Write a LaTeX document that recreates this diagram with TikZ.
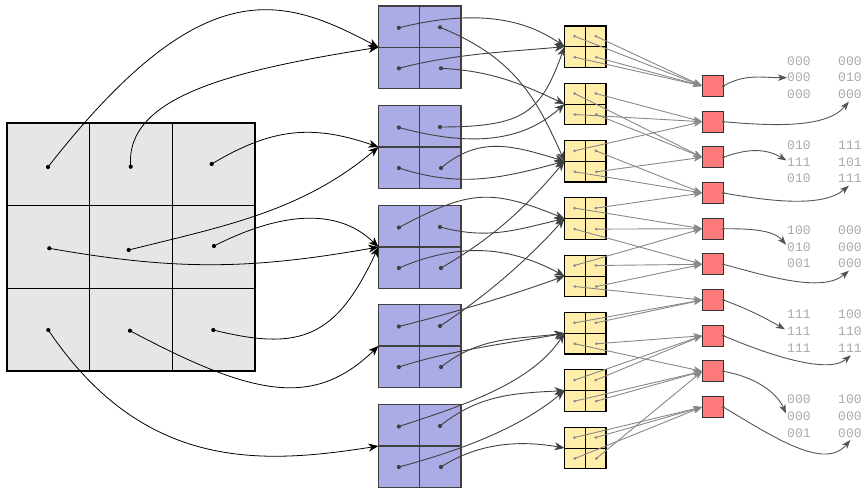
\documentclass[tikz,border=0pt]{standalone}
\usepackage{fontspec}
\newfontfamily\matfont{Liberation Mono}
\usetikzlibrary{arrows.meta,calc}
\definecolor{cellgray}{RGB}{230,230,230}
\definecolor{blockpurple}{RGB}{171,171,230}
\definecolor{blockyellow}{RGB}{255,238,170}
\definecolor{unitred}{RGB}{255,122,122}
\definecolor{bitgray}{RGB}{170,170,170}
\definecolor{edgedark}{RGB}{64,64,64}
\definecolor{edgemid}{RGB}{136,136,136}
\definecolor{edgeout}{RGB}{85,85,85}
\begin{document}
\begin{tikzpicture}[x=1pt,y=1pt,
  gridcell/.style={draw=black,line width=0.9pt,fill=cellgray,minimum size=82.67pt,inner sep=0pt,outer sep=0pt},
  pblock/.style={draw=edgedark,line width=1.4pt,fill=blockpurple,minimum size=82.5pt,inner sep=0pt,outer sep=0pt},
  yblock/.style={draw=black,line width=1.2pt,fill=blockyellow,minimum size=41.5pt,inner sep=0pt,outer sep=0pt},
  rnode/.style={draw=black!80,line width=1pt,fill=unitred,minimum size=21pt,inner sep=0pt,outer sep=0pt},
  gdot/.style={circle,fill=black,inner sep=0pt,minimum size=4.2pt},
  pdot/.style={circle,fill=edgedark,inner sep=0pt,minimum size=4.2pt},
  ydot/.style={circle,fill=edgemid,inner sep=0pt,minimum size=3pt},
  rdot/.style={circle,fill=edgeout,inner sep=0pt,minimum size=3pt},
  garrow/.style={draw=black,line width=0.8pt,-{Stealth[length=10pt,width=8pt,inset=3pt]}},
  parrow/.style={draw=edgedark,line width=0.9pt,-{Stealth[length=10pt,width=8pt,inset=3pt]}},
  yarrow/.style={draw=edgemid,line width=0.9pt,-{Stealth[length=9pt,width=6.5pt,inset=2.5pt]}},
  rarrow/.style={draw=edgeout,line width=0.9pt,-{Stealth[length=9pt,width=6.5pt,inset=2.5pt]}},
  bits/.style={font=\matfont\fontsize{13}{16.8}\selectfont,text=bitgray,align=left,inner sep=0pt,anchor=west},
]
\useasboundingbox (0,0) rectangle (864,-488);

% input grid
\foreach \r/\y in {1/-164.33,2/-247,3/-329.67}
  \foreach \c/\x in {1/48.33,2/131,3/213.67}
    \node[gridcell] (c\r\c) at (\x,\y) {};
\draw[line width=1.8pt] (c11.north west) rectangle (c33.south east);

% purple blocks
\foreach \i/\y in {1/-47.3,2/-147,3/-247,4/-346,5/-446}{
  \node[pblock] (p\i) at (419.7,\y) {};
  \draw[draw=edgedark,line width=1.4pt] (p\i.north) -- (p\i.south) (p\i.west) -- (p\i.east);
}

% yellow blocks
\foreach \i/\y in {1/-46.7,2/-104,3/-161.3,4/-218.6,5/-276,6/-333.3,7/-390.6,8/-448}{
  \node[yblock] (y\i) at (585.3,\y) {};
  \draw[line width=1pt] (y\i.north) -- (y\i.south) (y\i.west) -- (y\i.east);
}

% red units
\foreach \i/\y in {1/-86,2/-121.7,3/-157.3,4/-193,5/-228.7,6/-264.3,7/-300,8/-335.7,9/-371.3,10/-407}
  \node[rnode] (r\i) at (712.8,\y) {};

% bit patterns
\foreach \k/\y/\left/\right in {
  1/-77.7/{000\\000\\000}/{000\\010\\000},
  2/-161.9/{010\\111\\010}/{111\\101\\111},
  3/-246.8/{100\\010\\001}/{000\\000\\000},
  4/-331.4/{111\\111\\111}/{100\\110\\111},
  5/-416/{000\\000\\001}/{100\\000\\000}}{
  \node[bits] (m\k a) at (787,\y) {\left};
  \node[bits] (m\k b) at (838,\y) {\right};
}

% dot markers
\node[gdot] (g11) at (48,-167) {};
\node[gdot] (g12) at (130.7,-166.7) {};
\node[gdot] (g13) at (211.7,-164) {};
\node[gdot] (g21) at (49.3,-248.3) {};
\node[gdot] (g22) at (128.7,-250) {};
\node[gdot] (g23) at (214,-246) {};
\node[gdot] (g31) at (48.3,-330) {};
\node[gdot] (g32) at (130,-330.7) {};
\node[gdot] (g33) at (213.3,-330) {};

\foreach \i in {1,...,5}{
  \node[pdot] (pa\i) at ($(p\i.center)+(-20.8,19.5)$) {};
  \node[pdot] (pb\i) at ($(p\i.center)+(20.3,20)$) {};
  \node[pdot] (pc\i) at ($(p\i.center)+(-20.8,-21)$) {};
  \node[pdot] (pd\i) at ($(p\i.center)+(21.3,-21)$) {};
}
\foreach \i in {1,...,8}{
  \node[ydot] (ya\i) at ($(y\i.center)+(-10.8,10.5)$) {};
  \node[ydot] (yb\i) at ($(y\i.center)+(10.5,10.5)$) {};
  \node[ydot] (yc\i) at ($(y\i.center)+(-10.5,-10.5)$) {};
  \node[ydot] (yd\i) at ($(y\i.center)+(11,-10.5)$) {};
}

% grid -> purple
\draw[garrow] (g11.center) to[out=52,in=152,out distance=250pt,in distance=110pt] (p1.west);
\draw[garrow] (g12.center) to[out=95,in=189,out distance=70pt,in distance=150pt] (p1.west);
\draw[garrow] (g13.center) to[out=31,in=161,out distance=70pt,in distance=70pt] (p2.west);
\draw[garrow] (g21.center) to[out=-10,in=190,out distance=130pt,in distance=130pt] (p3.west);
\draw[garrow] (g22.center) to[out=14,in=220,out distance=100pt,in distance=100pt] (p2.west);
\draw[garrow] (g23.center) to[out=27,in=136,out distance=70pt,in distance=60pt] (p3.west);
\draw[garrow] (g31.center) to[out=-56,in=189,out distance=170pt,in distance=120pt] (p5.west);
\draw[garrow] (g32.center) to[out=-28,in=224,out distance=140pt,in distance=90pt] (p4.west);
\draw[garrow] (g33.center) to[out=-14,in=245,out distance=90pt,in distance=100pt] (p3.west);

% purple -> yellow
\draw[parrow] (pa1.center) to[out=14,in=145,out distance=70pt,in distance=55pt] (y1.west);
\draw[parrow] (pb1.center) to[out=-22,in=114,out distance=80pt,in distance=70pt] (y3.west);
\draw[parrow] (pc1.center) to[out=15,in=185,out distance=55pt,in distance=55pt] (y1.west);
\draw[parrow] (pd1.center) to[out=-3,in=155,out distance=50pt,in distance=50pt] (y2.west);
\draw[parrow] (pa2.center) to[out=-15,in=222,out distance=70pt,in distance=60pt] (y2.west);
\draw[parrow] (pb2.center) to[out=0,in=250,out distance=85pt,in distance=70pt] (y1.west);
\draw[parrow] (pc2.center) to[out=-18,in=195,out distance=65pt,in distance=65pt] (y3.west);
\draw[parrow] (pd2.center) to[out=40,in=163,out distance=50pt,in distance=55pt] (y3.west);
\draw[parrow] (pa3.center) to[out=28,in=158,out distance=80pt,in distance=80pt] (y4.west);
\draw[parrow] (pb3.center) to[out=-15,in=193,out distance=50pt,in distance=50pt] (y4.west);
\draw[parrow] (pc3.center) to[out=23,in=152,out distance=70pt,in distance=60pt] (y5.west);
\draw[parrow] (pd3.center) to[out=30,in=230,out distance=60pt,in distance=60pt] (y3.west);
\draw[parrow] (pa4.center) to[out=14,in=200,out distance=55pt,in distance=55pt] (y5.west);
\draw[parrow] (pb4.center) to[out=33,in=228,out distance=55pt,in distance=55pt] (y4.west);
\draw[parrow] (pc4.center) to[out=18,in=190,out distance=55pt,in distance=55pt] (y6.west);
\draw[parrow] (pd4.center) to[out=38,in=187,out distance=50pt,in distance=50pt] (y6.west);
\draw[parrow] (pa5.center) to[out=18,in=236,out distance=70pt,in distance=60pt] (y6.west);
\draw[parrow] (pb5.center) to[out=39,in=183,out distance=50pt,in distance=50pt] (y7.west);
\draw[parrow] (pc5.center) to[out=15,in=220,out distance=60pt,in distance=60pt] (y7.west);
\draw[parrow] (pd5.center) to[out=33,in=170,out distance=45pt,in distance=45pt] (y8.west);

% yellow -> red
\foreach \s/\t in {a1/1,b1/1,c1/1,d1/1,
                   a2/3,b2/2,c2/2,d2/3,
                   a3/2,b3/4,c3/4,d3/3,
                   a4/5,b4/4,c4/6,d4/5,
                   a5/5,b5/6,c5/7,d5/6,
                   a6/7,b6/7,c6/9,d6/8,
                   a7/8,b7/8,c7/9,d7/9,
                   a8/10,b8/10,c8/10,d8/9}
  \draw[yarrow] (y\s.center) -- (r\t.west);

% red -> bit patterns
\draw[rarrow] (r1.east) to[out=30,in=180,out distance=25pt,in distance=25pt] (m1a.west);
\draw[rarrow] (r2.east) to[out=-5,in=230,out distance=50pt,in distance=35pt] ($(m1b.south)+(-1,-2.5)$);
\draw[rarrow] (r3.east) to[out=20,in=150,out distance=25pt,in distance=25pt] ($(m2a.west)+(-0.5,1.5)$);
\draw[rarrow] (r4.east) to[out=-10,in=220,out distance=45pt,in distance=35pt] ($(m2b.south)+(-1,-2.5)$);
\draw[rarrow] (r5.east) to[out=0,in=130,out distance=25pt,in distance=20pt] ($(m3a.west)+(-1,2)$);
\draw[rarrow] (r6.east) to[out=-15,in=220,out distance=45pt,in distance=35pt] ($(m3b.south)+(-1,-2.5)$);
\draw[rarrow] (r7.east) to[out=-20,in=150,out distance=25pt,in distance=25pt] ($(m4a.west)+(-2,2)$);
\draw[rarrow] (r8.east) to[out=-23,in=220,out distance=50pt,in distance=30pt] ($(m4b.south)+(1,-2.5)$);
\draw[rarrow] (r9.east) to[out=-10,in=114,out distance=30pt,in distance=25pt] ($(m5a.west)+(-1,2.5)$);
\draw[rarrow] (r10.east) to[out=-31,in=230,out distance=60pt,in distance=40pt] ($(m5b.south)+(0.5,-2.5)$);
\foreach \i in {1,...,10}
  \node[rdot] (rd\i) at (r\i.east) {};
\end{tikzpicture}
\end{document}
